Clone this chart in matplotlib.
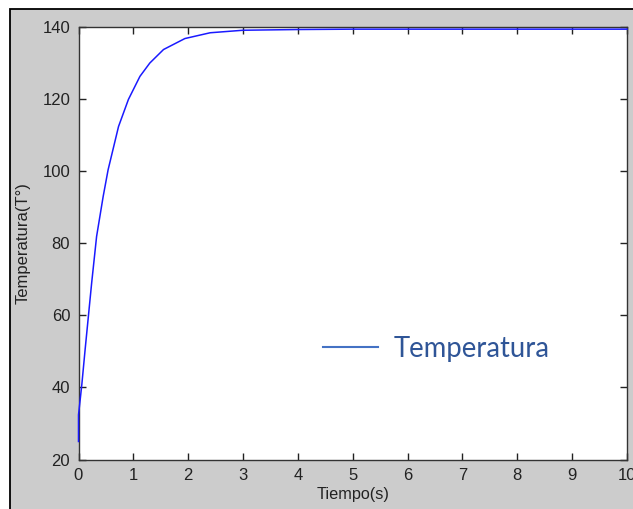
import matplotlib
matplotlib.use('Agg')
import matplotlib.pyplot as plt
from matplotlib.lines import Line2D
from matplotlib.patches import Rectangle

# values
tiempo = [0.0, 0.0, 0.03, 0.06, 0.12, 0.18, 0.24, 0.33, 0.45, 0.54, 0.73, 0.91,
          1.12, 1.30, 1.55, 1.94, 2.40, 3.0, 4.0, 5.0, 6.0, 7.0, 8.0, 9.0, 10.0]
temperatura = [25.0, 32.4, 36.5, 40.7, 50.4, 59.7, 69.0, 81.9, 93.0, 100.4, 112.4, 119.9,
               126.3, 130.0, 133.75, 136.8, 138.4, 139.1, 139.3, 139.4, 139.4, 139.4,
               139.4, 139.4, 139.4]
xticks = list(range(0, 11))
yticks = list(range(20, 141, 20))
etiqueta = 'Temperatura'


def main():
    W, H = 633, 509
    fig = plt.figure(figsize=(W / 100, H / 100), dpi=100)
    fig.patch.set_facecolor('white')

    # gray matlab-style window with black border on top and left
    fig.patches.append(Rectangle((10 / W, -0.05), 1.0, (H - 8.5) / H + 0.05,
                                 transform=fig.transFigure, facecolor='#cccccc',
                                 edgecolor='black', linewidth=1.3, zorder=-10))

    ax = fig.add_axes([78.5 / W, (H - 459.5) / H, 548.5 / W, 432.5 / H])
    ax.set_facecolor('white')
    # curve drawn over the spines so the jump at t=0 stays visible
    ax.plot(tiempo, temperatura, color='#1a1aff', linewidth=1.1, zorder=3, clip_on=False)

    ax.set_xlim(0, 10)
    ax.set_ylim(20, 140)
    ax.set_xticks(xticks)
    ax.set_yticks(yticks)

    txt = '#222222'
    ax.tick_params(direction='in', length=5, width=1, top=True, right=True,
                   labelsize=12, colors='#222222', pad=6)
    for lab in ax.get_xticklabels() + ax.get_yticklabels():
        lab.set_family('Liberation Sans')
    for s in ax.spines.values():
        s.set_color('#333333')
        s.set_linewidth(1.0)

    ax.set_xlabel('Tiempo(s)', fontsize=11.7, family='Liberation Sans', color=txt)
    ax.set_ylabel('Temperatura(T°)', fontsize=12, family='Liberation Sans', color=txt)
    ax.xaxis.set_label_coords(0.5, -(494 - 459.5) / 432.5)
    ax.yaxis.set_label_coords(-(78.5 - 23) / 548.5, 0.5)
    ax.xaxis.label.set_va('center')
    ax.yaxis.label.set_va('center')

    # legend pasted on top like in the original (no frame)
    handle = Line2D([], [], color='#4472c4', linewidth=1.5)
    leg = fig.legend([handle], [etiqueta], loc='center left',
                     bbox_to_anchor=(323 / W, 1 - 349 / H), bbox_transform=fig.transFigure,
                     frameon=False, borderpad=0, borderaxespad=0,
                     handlelength=2.0, handletextpad=0.55,
                     prop={'family': 'Lato', 'size': 19.8})
    leg.get_texts()[0].set_color('#2f5597')

    fig.savefig('out.png', dpi=100, facecolor=fig.get_facecolor())


if __name__ == "__main__":
    main()
